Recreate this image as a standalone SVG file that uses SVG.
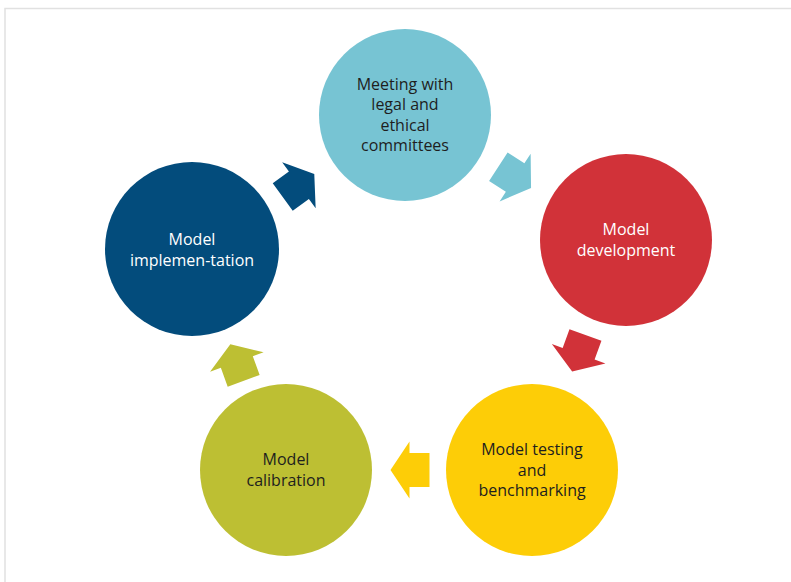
<svg xmlns="http://www.w3.org/2000/svg" xmlns:xlink="http://www.w3.org/1999/xlink" width="791" height="582" viewBox="0 0 791 582">
<style>
.lbl{font-family:"Open Sans","Noto Sans","Liberation Sans",sans-serif;font-size:16px;text-anchor:middle}
.dk{fill:#1e1e1e}
.wt{fill:#ffffff}
.frame{fill:none;stroke:#e1e1e1;stroke-width:1.5}
</style>
<defs>
<path id="arr" d="M-19.5,-17 L0.5,-17 L0.5,-28.5 L19.5,0 L0.5,28.5 L0.5,17 L-19.5,17 Z"/>
</defs>
<rect width="791" height="582" fill="#ffffff"/>
<path class="frame" d="M5,582 L5,8.5 L791,8.5"/>
<g id="connectors">
<use xlink:href="#arr" href="#arr" fill="#034C7C" transform="translate(298.5,185.5) rotate(-36)"/>
<use xlink:href="#arr" href="#arr" fill="#77C4D3" transform="translate(514.7,177.3) rotate(33)"/>
<use xlink:href="#arr" href="#arr" fill="#D13239" transform="translate(578.8,353.3) rotate(110)"/>
<use xlink:href="#arr" href="#arr" fill="#FDCD07" transform="translate(410,470) rotate(180)"/>
<use xlink:href="#arr" href="#arr" fill="#BDBF33" transform="translate(237,362.5) rotate(-110)"/>
</g>
<g id="n1">
<circle cx="405" cy="115" r="86" fill="#77C4D3"/>
<text class="lbl dk"><tspan x="405" y="89.5">Meeting with</tspan><tspan x="405" y="110">legal and</tspan><tspan x="405" y="130.5">ethical</tspan><tspan x="405" y="151">committees</tspan></text>
</g>
<g id="n2">
<circle cx="626" cy="240" r="86" fill="#D13239"/>
<text class="lbl wt"><tspan x="626" y="234.5">Model</tspan><tspan x="626" y="255.5">development</tspan></text>
</g>
<g id="n3">
<circle cx="532" cy="470" r="86" fill="#FDCD07"/>
<text class="lbl dk"><tspan x="532" y="455">Model testing</tspan><tspan x="532" y="475.5">and</tspan><tspan x="532" y="496">benchmarking</tspan></text>
</g>
<g id="n4">
<circle cx="286" cy="470" r="86" fill="#BDBF33"/>
<text class="lbl dk"><tspan x="286" y="465">Model</tspan><tspan x="286" y="485.5">calibration</tspan></text>
</g>
<g id="n5">
<circle cx="192" cy="249" r="87" fill="#034C7C"/>
<text class="lbl wt"><tspan x="192" y="244.5">Model</tspan><tspan x="192" y="265.5">implemen-tation</tspan></text>
</g>
</svg>
